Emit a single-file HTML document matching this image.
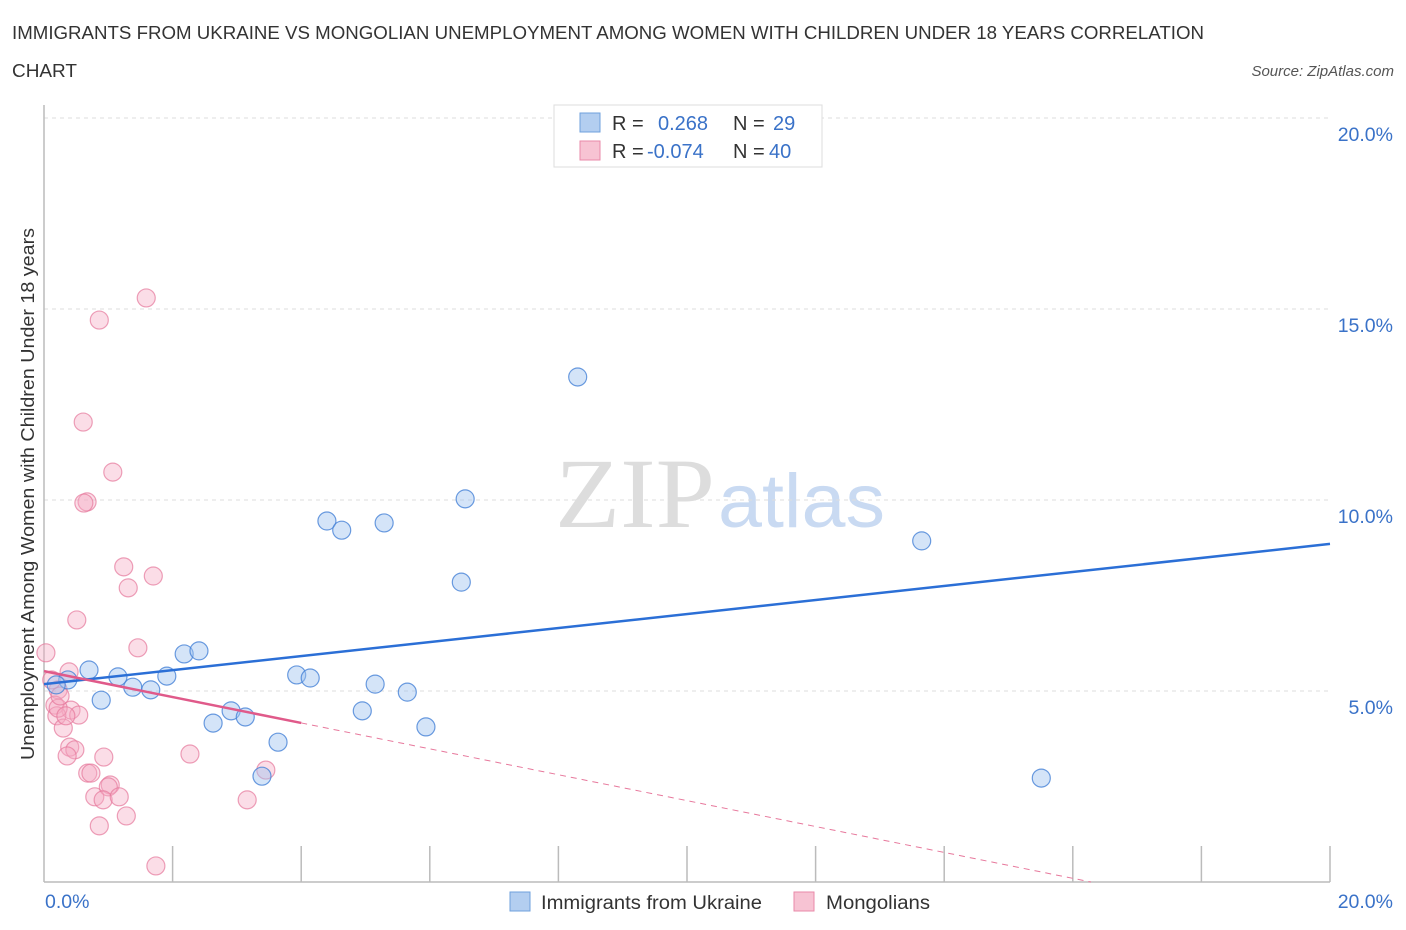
<!DOCTYPE html>
<html><head><meta charset="utf-8">
<style>
body{margin:0;background:#fff;font-family:"Liberation Sans",sans-serif;}
svg{display:block}
</style></head>
<body>
<svg id="chart" width="1406" height="930" viewBox="0 0 1406 930">
<text x="12" y="39" font-size="18" fill="#333" textLength="1192" lengthAdjust="spacingAndGlyphs">IMMIGRANTS FROM UKRAINE VS MONGOLIAN UNEMPLOYMENT AMONG WOMEN WITH CHILDREN UNDER 18 YEARS CORRELATION</text>
<text x="12" y="77" font-size="18" fill="#333" textLength="65" lengthAdjust="spacingAndGlyphs">CHART</text>
<text x="1394" y="76" font-size="15" fill="#555" font-style="italic" text-anchor="end">Source: ZipAtlas.com</text>
<text x="555" y="527" font-size="100" fill="#ddd" textLength="160" lengthAdjust="spacingAndGlyphs" font-family="Liberation Serif,serif">ZIP</text>
<text x="718" y="527" font-size="76" fill="#c9daf2" textLength="167" lengthAdjust="spacingAndGlyphs">atlas</text>
<g id="grid"></g>
<g id="axes"></g>
<g id="marks"></g>
<text transform="translate(34,494) rotate(-90)" font-size="18" fill="#333" text-anchor="middle" textLength="532" lengthAdjust="spacingAndGlyphs">Unemployment Among Women with Children Under 18 years</text>
<g>
<rect x="554" y="105" width="268" height="62" fill="#fff" stroke="#ddd"/>
<rect x="580" y="113" width="20" height="19" fill="#b3cef0" stroke="#6fa0dc"/>
<rect x="580" y="141" width="20" height="19" fill="#f7c3d3" stroke="#e98aa8"/>
<text x="612" y="130" font-size="20" fill="#333">R =</text>
<text x="658" y="130" font-size="20" fill="#3a72c8">0.268</text>
<text x="733" y="130" font-size="20" fill="#333">N =</text>
<text x="773" y="130" font-size="20" fill="#3a72c8">29</text>
<text x="612" y="158" font-size="20" fill="#333">R =</text>
<text x="647" y="158" font-size="20" fill="#3a72c8">-0.074</text>
<text x="733" y="158" font-size="20" fill="#333">N =</text>
<text x="769" y="158" font-size="20" fill="#3a72c8">40</text>
</g>
<g>
<rect x="510" y="892" width="20" height="19" fill="#b3cef0" stroke="#6fa0dc"/>
<text x="541" y="909" font-size="19" fill="#333" textLength="221" lengthAdjust="spacingAndGlyphs">Immigrants from Ukraine</text>
<rect x="794" y="892" width="20" height="19" fill="#f7c3d3" stroke="#e98aa8"/>
<text x="826" y="909" font-size="19" fill="#333" textLength="104" lengthAdjust="spacingAndGlyphs">Mongolians</text>
</g>
</svg>
<script>
const blueX=[8.30,6.55,4.40,4.63,5.29,6.49,13.65,15.51,0.70,0.37,1.15,1.38,1.66,1.91,2.18,2.41,0.89,2.63,2.91,3.13,3.64,3.39,3.93,4.14,5.15,5.65,4.95,5.94,0.19];
const blueY=[13.22,10.03,9.45,9.21,9.40,7.85,8.93,2.72,5.55,5.29,5.37,5.10,5.03,5.39,5.97,6.05,4.76,4.16,4.48,4.32,3.66,2.77,5.42,5.34,5.18,4.97,4.48,4.06,5.16];
const pinkX=[1.59,0.86,0.61,1.07,0.67,0.62,1.24,1.70,1.31,0.51,1.46,0.03,0.39,0.22,0.17,0.42,0.20,0.54,0.30,0.40,0.48,0.36,0.93,2.27,0.68,0.73,0.79,1.03,1.00,0.92,1.17,3.45,3.16,1.28,0.86,1.74,0.22,0.12,0.25,0.34];
const pinkY=[15.29,14.71,12.04,10.73,9.95,9.92,8.25,8.01,7.70,6.86,6.13,6.0,5.50,5.03,4.63,4.50,4.35,4.37,4.03,3.53,3.46,3.30,3.27,3.35,2.85,2.85,2.23,2.54,2.49,2.15,2.23,2.93,2.15,1.73,1.47,0.42,4.55,5.29,4.87,4.35];
const yTicks=[5,10,15,20];
const yTickLabels=["5.0%","10.0%","15.0%","20.0%"];
const xTicks=[2,4,6,8,10,12,14,16,18,20];
const blueTrend=[5.18,8.85]; // y at x=0 and x=20
const pinkTrend=[5.52,-0.339]; // intercept, slope
const pinkSolidEnd=4;

const NS="http://www.w3.org/2000/svg";
const X=v=>44+v*64.3;
const Y=v=>882-v*38.2;
function mk(tag,attrs,parent){const e=document.createElementNS(NS,tag);for(const k in attrs)e.setAttribute(k,attrs[k]);parent.appendChild(e);return e;}
const grid=document.getElementById('grid'),axes=document.getElementById('axes'),marks=document.getElementById('marks');
yTicks.forEach((t,i)=>{
 const l=mk('line',{x1:44,x2:1330,y1:Y(t),y2:Y(t),stroke:'#ddd','stroke-dasharray':'4,4'},grid);
 
 
 const tx=mk('text',{x:1393,y:Y(t)+23,'font-size':19.5,fill:'#3a72c8','text-anchor':'end'},axes);
 tx.textContent=yTickLabels[i];
 
 
});
const ax=mk('line',{x1:44,x2:44,y1:105,y2:882,stroke:'#bbb','stroke-width':1.5},axes);


const bx=mk('line',{x1:44,x2:1330,y1:882,y2:882,stroke:'#bbb','stroke-width':1.5},axes);


xTicks.forEach(t=>{
 const l=mk('line',{x1:X(t),x2:X(t),y1:846,y2:882,stroke:'#bbb','stroke-width':1.5},axes);
 
 
});
const x0=mk('text',{x:45,y:908,'font-size':19.5,fill:'#3a72c8'},axes);x0.textContent='0.0%';


const x1=mk('text',{x:1393,y:908,'font-size':19.5,fill:'#3a72c8','text-anchor':'end'},axes);x1.textContent='20.0%';



pinkX.forEach((v,i)=>{
 const c=mk('circle',{cx:X(v),cy:Y(pinkY[i]),r:9,fill:'rgba(244,170,195,0.4)',stroke:'rgba(230,120,155,0.7)','stroke-width':1.2},marks);
 
 
});
blueX.forEach((v,i)=>{
 const c=mk('circle',{cx:X(v),cy:Y(blueY[i]),r:9,fill:'rgba(160,195,240,0.45)',stroke:'rgba(70,130,215,0.8)','stroke-width':1.2},marks);
 
 
});
const bl=mk('line',{x1:X(0),y1:Y(blueTrend[0]),x2:X(20),y2:Y(blueTrend[1]),stroke:'#2b6fd6','stroke-width':2.5},marks);


const pEnd=-pinkTrend[0]/pinkTrend[1];
const pd=mk('line',{x1:X(pinkSolidEnd),y1:Y(pinkTrend[0]+pinkTrend[1]*pinkSolidEnd),x2:X(pEnd),y2:Y(0),stroke:'#e7789c','stroke-width':1,'stroke-dasharray':'6,5'},marks);


const ps=mk('line',{x1:X(0),y1:Y(pinkTrend[0]),x2:X(pinkSolidEnd),y2:Y(pinkTrend[0]+pinkTrend[1]*pinkSolidEnd),stroke:'#e05a8a','stroke-width':2.5},marks);


</script>
</body></html>
